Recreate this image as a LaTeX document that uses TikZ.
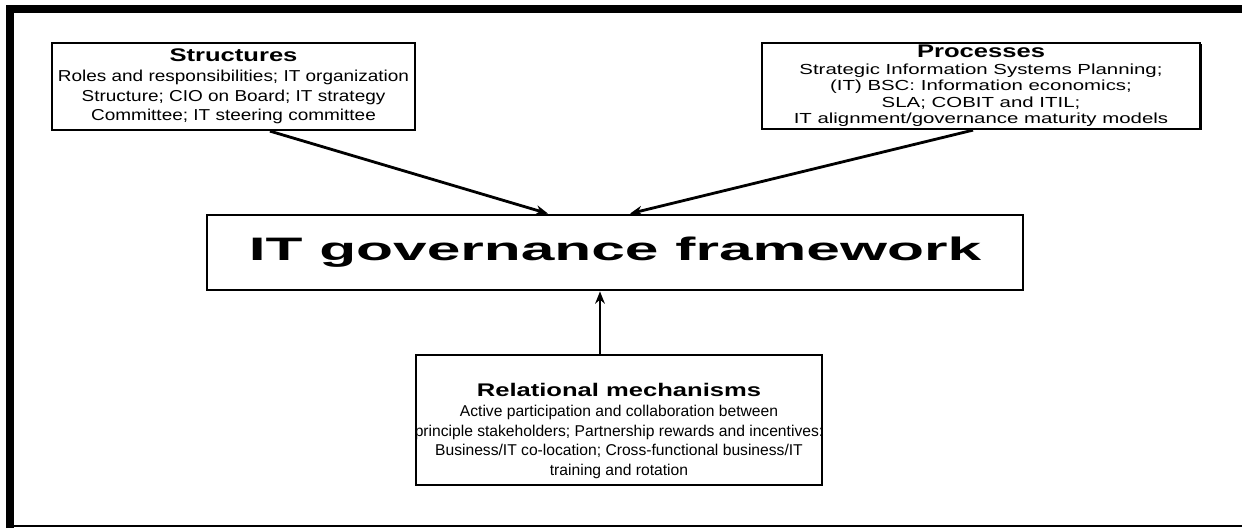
\documentclass[tikz,border=0pt]{standalone}
\usepackage{fontspec}
\setsansfont{Liberation Sans}
\usetikzlibrary{arrows.meta,calc,shadows}

\newcommand{\boxtitle}[1]{{\addfontfeatures{FakeStretch=1.4}\fontsize{10.4}{12.5}\selectfont\bfseries #1}}

\begin{document}
\begin{tikzpicture}[x=0.02cm,y=-0.02cm,
    box/.style={draw,line width=1.3pt,inner sep=0pt,align=center},
    link/.style={line width=1.6pt,-{Stealth[length=7pt,width=5.5pt]}},
    small/.style={font=\sffamily\addfontfeatures{FakeStretch=1.2}\fontsize{9}{11.2}\selectfont}]
  \useasboundingbox (0,0) rectangle (1242,528);
  % page frame
  \draw[line width=4.5pt] (10,528) -- (10,9) -- (1242,9);
  \draw[line width=0.8pt] (6,526) -- (1242,526);

  \node[box,small,minimum width=7.26cm,minimum height=1.74cm] (struct) at (233.5,86.5)
    {\boxtitle{Structures}\\
     Roles and responsibilities; IT organization\\
     Structure; CIO on Board; IT strategy\\
     Committee; IT steering committee};
  \node[box,font=\sffamily\addfontfeatures{FakeStretch=1.4}\fontsize{8.3}{9.4}\selectfont,
        drop shadow={shadow xshift=1.2pt,shadow yshift=-0.8pt,opacity=1,fill=black},
        fill=white,minimum width=8.76cm,minimum height=1.72cm] (proc) at (981,86)
    {\boxtitle{Processes}\\
     Strategic Information Systems Planning;\\
     (IT) BSC: Information economics;\\
     SLA; COBIT and ITIL;\\
     IT alignment/governance maturity models};
  \node[box,line width=1.6pt,
        font=\sffamily\addfontfeatures{FakeStretch=1.86}\bfseries\fontsize{18.5}{22}\selectfont,
        minimum width=16.32cm,minimum height=1.5cm] (main) at (615,252.5)
    {IT governance framework};
  \node[box,minimum width=8.12cm,minimum height=2.6cm] (rel) at (619,420) {};
  \node[align=center,inner sep=0pt,
        font=\sffamily\fontsize{8.9}{11.3}\selectfont] (reltext) at (619,431)
    {\boxtitle{Relational mechanisms}\\
     Active participation and collaboration between\\
     principle stakeholders; Partnership rewards and incentives:\\
     Business/IT co-location; Cross-functional business/IT\\
     training and rotation};

  \draw[link] ($(struct.south)+(36.5,0)$) -- ($(main.north)+(-67,0)$);
  \draw[link] ($(proc.south)+(-8,0)$) -- ($(main.north)+(15,0)$);
  \draw[link] ($(rel.north)+(-19,0)$) -- ($(main.south)+(-15,0)$);
\end{tikzpicture}
\end{document}
